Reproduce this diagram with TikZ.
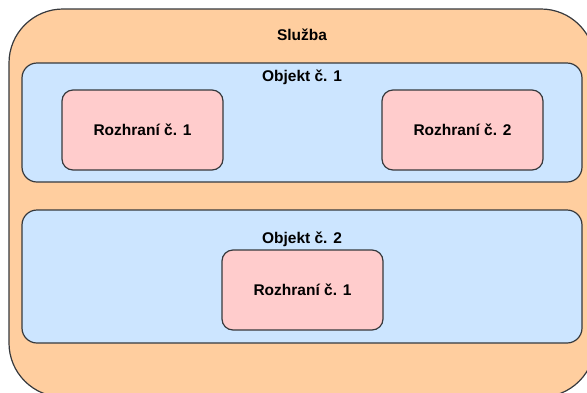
\documentclass[tikz,border=0pt]{standalone}
\usepackage{fontspec}
\setmainfont{Liberation Sans}
\definecolor{orangefill}{HTML}{FFCE9F}
\definecolor{bluefill}{HTML}{CCE5FF}
\definecolor{pinkfill}{HTML}{FFCCCC}
\definecolor{edge}{HTML}{36393D}
\tikzset{
  boxbase/.style={draw=edge, line width=1.2pt},
  outerbox/.style={boxbase, fill=orangefill, rounded corners=54pt},
  objbox/.style={boxbase, fill=bluefill, rounded corners=15pt},
  ifacebox/.style={boxbase, fill=pinkfill, rounded corners=11pt},
  lbl/.style={font=\fontsize{15.5pt}{17pt}\selectfont\bfseries, anchor=base, inner sep=0pt, text=black}
}
\begin{document}
\begin{tikzpicture}[x=1pt,y=-1pt]
\useasboundingbox (0,0) rectangle (587,392);
\clip (0,0) rectangle (587,392);
% outer service box
\draw[outerbox] (9,9) rectangle (595,397);
\node[lbl] (sluzba) at (302,40) {Služba};
% object 1
\draw[objbox] (22,63) rectangle (582,182);
\node[lbl] (obj1) at (302,81) {Objekt č. 1};
\node[ifacebox, minimum width=161pt, minimum height=80pt, inner sep=0pt] (if11) at (142.5,130) {};
\node[lbl] (if11t) at (142.5,135) {Rozhraní č. 1};
\node[ifacebox, minimum width=161pt, minimum height=80pt, inner sep=0pt] (if12) at (462.5,130) {};
\node[lbl] (if12t) at (462.5,135) {Rozhraní č. 2};
% object 2
\draw[objbox] (22,210) rectangle (582,343);
\node[lbl] (obj2) at (302,243) {Objekt č. 2};
\node[ifacebox, minimum width=161pt, minimum height=80pt, inner sep=0pt] (if21) at (302.5,290) {};
\node[lbl] (if21t) at (302.5,295) {Rozhraní č. 1};
\end{tikzpicture}
\end{document}
